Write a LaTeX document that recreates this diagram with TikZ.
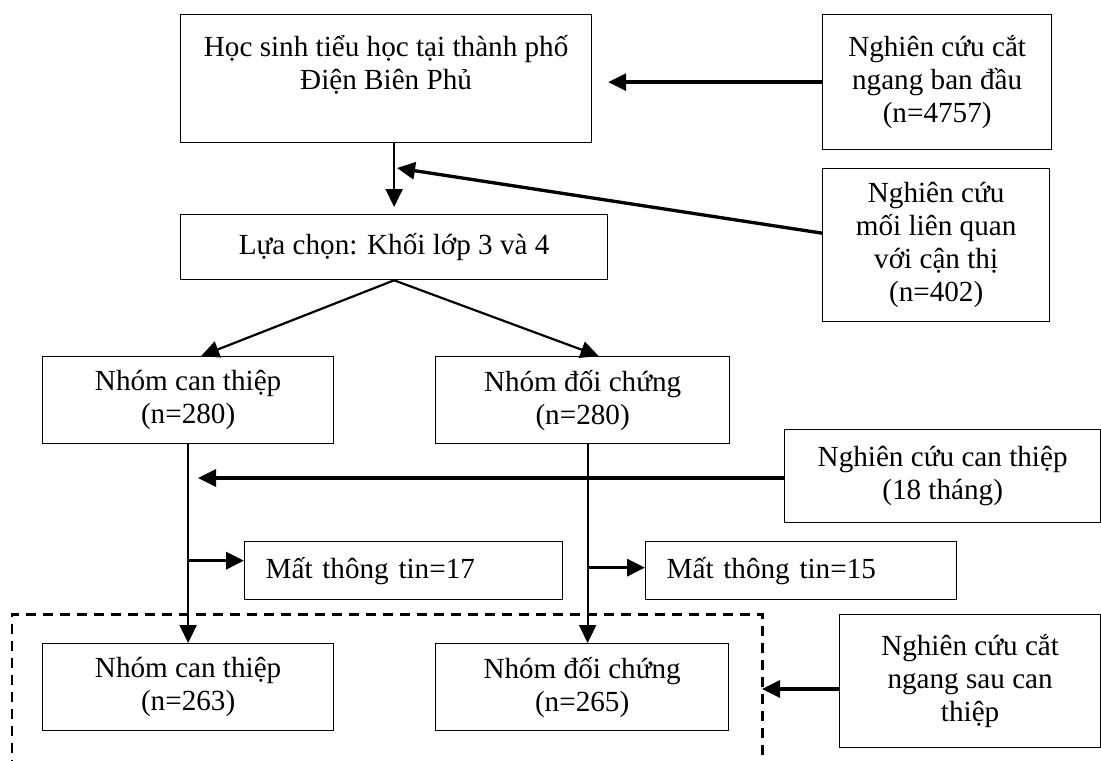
\documentclass[tikz,border=0pt]{standalone}
\usepackage{fontspec}
\setmainfont{Liberation Serif}
\usetikzlibrary{positioning,arrows.meta,calc}

\begin{document}
\begin{tikzpicture}[
    x=0.02cm, y=-0.02cm,
    every node/.style={font=\fontsize{16.6}{18.8}\selectfont},
    box/.style={draw, line width=0.75pt, anchor=north west, align=center, inner sep=0pt},
    lossbox/.style={box, align=left, inner xsep=0.42cm, minimum height=1.16cm},
    arr/.style={-{Triangle[length=0.36cm, width=0.34cm]}, line width=1.25pt},
    arrb/.style={arr, line width=1.9pt},
    dashframe/.style={dash pattern=on 0.2cm off 0.14cm, line width=1.7pt},
]
    \useasboundingbox (0,0) rectangle (1101,760);

    \node[box, minimum width=8.22cm, minimum height=2.56cm] (m1) at (180,14)
        {Học sinh tiểu học tại thành phố\\Điện Biên Phủ\\\mbox{}};
    \node[box, minimum width=4.58cm, minimum height=2.70cm] (r1) at (822,14)
        {Nghiên cứu cắt\\ngang ban đầu\\(n=4757)};
    \node[box, minimum width=8.54cm, minimum height=1.30cm] (m2) at (180,214)
        {Lựa chọn: Khối lớp 3 và 4};
    \node[box, minimum width=4.54cm, minimum height=3.06cm] (r2) at (822,168)
        {Nghiên cứu\\mối liên quan\\với cận thị\\(n=402)};

    \node[box, minimum width=5.82cm, minimum height=1.74cm] (g1) at (42,356)
        {Nhóm can thiệp\\(n=280)};
    \node[box, minimum width=5.88cm, minimum height=1.74cm] (g2) at (435,356)
        {Nhóm đối chứng\\(n=280)};
    \node[box, minimum width=6.32cm, minimum height=1.86cm] (r3) at (784,429)
        {Nghiên cứu can thiệp\\(18 tháng)};

    \node[lossbox, text width=5.52cm] (x1) at (244,541) {Mất thông tin=17};
    \node[lossbox, text width=5.38cm] (x2) at (645,541) {Mất thông tin=15};

    \node[box, minimum width=5.82cm, minimum height=1.74cm] (g3) at (42,643)
        {Nhóm can thiệp\\(n=263)};
    \node[box, minimum width=5.86cm, minimum height=1.74cm] (g4) at (435,643)
        {Nhóm đối chứng\\(n=265)};
    \node[box, minimum width=5.22cm, minimum height=2.66cm] (r4) at (839,614)
        {Nghiên cứu cắt\\ngang sau can\\thiệp};

    \draw[dashframe] (12,770) |- (762,614) -- (762,770);

    \coordinate (j1) at (397,168);
    \coordinate (j2) at (198,478);
    \coordinate (j3) at (762,689);
    \coordinate (v2) at ([xshift=0.1cm]g2.south);
    \coordinate (s1) at ([yshift=0.2cm]x1.west);
    \coordinate (s2) at ([yshift=0.06cm]x2.west);

    \draw[arrb, shorten >=0.32cm] (r1.west) -- (r1.west -| m1.east);
    \draw[arr, shorten >=0.14cm] (m2.north |- m1.south) -- (m2.north);
    \draw[arrb] ([yshift=0.24cm]r2.west) -- (j1);
    \draw[arr] (m2.south) -- ([xshift=0.26cm]g1.north);
    \draw[arr] (m2.south) -- ([xshift=0.32cm]g2.north);
    \draw[arr] (g1.south) -- (g3.north);
    \draw[arr] (v2) -- (v2 |- g4.north);
    \draw[arrb] (r3.west |- j2) -- (j2);
    \draw[arrb] (s1 -| g1.south) -- (s1);
    \draw[arrb] (s2 -| v2) -- (s2);
    \draw[arrb] (r4.west |- j3) -- (j3);
\end{tikzpicture}
\end{document}
